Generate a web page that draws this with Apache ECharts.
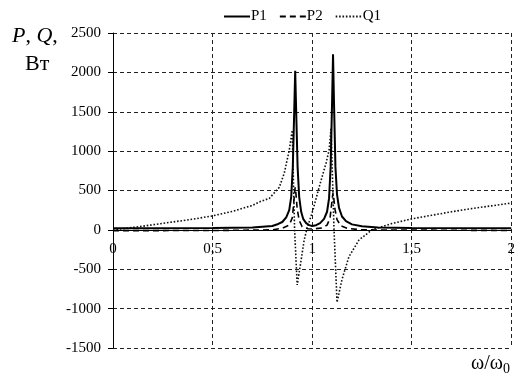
<!DOCTYPE html>
<html>
<head>
<meta charset="utf-8">
<script src="https://cdn.jsdelivr.net/npm/echarts@6/dist/echarts.min.js"></script>
<style>
  html, body { margin: 0; padding: 0; background: #fff; }
  #chart { width: 518px; height: 378px; }
</style>
</head>
<body>
<div id="chart"></div>
<script>
// omega / omega0 sample points for each curve, values in W
const p1X = [0, 0.25, 0.5, 0.7, 0.8, 0.83, 0.85, 0.87, 0.885, 0.895, 0.903, 0.91, 0.915, 0.92, 0.927, 0.935, 0.945, 0.955, 0.97, 0.985, 1.0, 1.02, 1.04, 1.06, 1.075, 1.085, 1.093, 1.1, 1.105, 1.11, 1.117, 1.125, 1.135, 1.15, 1.17, 1.2, 1.25, 1.33, 1.5, 2.0];
const p1Y = [20, 22, 25, 30, 50, 75, 100, 160, 250, 420, 800, 1500, 2020, 1500, 800, 420, 230, 140, 85, 60, 50, 60, 85, 140, 230, 400, 800, 1600, 2230, 1600, 800, 450, 280, 170, 110, 70, 45, 30, 25, 22];

const p2X = [0, 0.5, 0.8, 0.85, 0.885, 0.9, 0.905, 0.912, 0.915, 0.918, 0.925, 0.935, 0.95, 0.98, 1.0, 1.05, 1.075, 1.09, 1.095, 1.102, 1.105, 1.108, 1.115, 1.125, 1.145, 1.175, 1.25, 2.0];
const p2Y = [-10, -8, 0, 20, 60, 150, 270, 480, 540, 480, 270, 120, 40, 15, 10, 25, 60, 150, 260, 420, 470, 420, 260, 130, 50, 20, 0, -8];

const q1X = [0, 0.13, 0.27, 0.4, 0.5, 0.6, 0.7, 0.735, 0.785, 0.835, 0.86, 0.885, 0.9, 0.912, 0.925, 0.945, 0.96, 0.975, 1.0, 1.035, 1.07, 1.085, 1.095, 1.11, 1.125, 1.15, 1.185, 1.235, 1.3, 1.4, 1.5, 1.6, 1.7, 1.8, 1.9, 2.0];
const q1Y = [0, 40, 90, 135, 178, 235, 310, 355, 400, 540, 720, 1010, 1265, 0, -700, -380, -130, 25, 215, 540, 850, 1010, 1290, 0, -920, -630, -340, -130, 0, 80, 140, 185, 230, 270, 305, 340];

const yTicks = { min: -1500, max: 2500, step: 500 };
const xTicks = { min: 0, max: 2, step: 0.5 };

const pair = (xs, ys) => xs.map((x, i) => [x, ys[i]]);

const chart = echarts.init(document.getElementById('chart'), null, { renderer: 'canvas' });
const serif = '"Liberation Serif", "Times New Roman", serif';

const gridTop = 33;
const gridBottom = 30;
const gridHeight = 378 - gridTop - gridBottom;
// move the x axis up to the zero line
const zeroShift = gridHeight * (0 - yTicks.min) / (yTicks.max - yTicks.min);

const option = {
  backgroundColor: '#fff',
  animation: false,
  textStyle: { fontFamily: serif, color: '#000' },
  legend: {
    top: 4,
    left: 218,
    itemWidth: 26,
    itemHeight: 10,
    itemGap: 12,
    itemStyle: { color: 'transparent', borderWidth: 0, opacity: 0 },
    textStyle: { fontFamily: serif, fontSize: 15, color: '#000', padding: [0, 0, 0, -4] },
    data: ['P1', 'P2', 'Q1']
  },
  grid: { left: 113, right: 4, top: gridTop, bottom: gridBottom },
  xAxis: {
    type: 'value',
    min: xTicks.min,
    max: xTicks.max,
    interval: xTicks.step,
    offset: -zeroShift,
    axisLine: { onZero: false, lineStyle: { color: '#000', width: 1 } },
    axisTick: { show: false },
    axisLabel: {
      margin: 12,
      fontSize: 15,
      color: '#000',
      fontFamily: serif,
      formatter: v => String(v).replace('.', ',')
    },
    splitLine: { show: true, lineStyle: { color: '#222', type: [4, 3], width: 1 } }
  },
  yAxis: {
    type: 'value',
    min: yTicks.min,
    max: yTicks.max,
    interval: yTicks.step,
    axisLine: { show: true, onZero: false, lineStyle: { color: '#000', width: 1 } },
    axisTick: { show: true, inside: false, length: 5, lineStyle: { color: '#000' } },
    axisLabel: { margin: 12, fontSize: 15, color: '#000', fontFamily: serif, formatter: v => String(v) },
    splitLine: { show: true, lineStyle: { color: '#222', type: [4, 3], width: 1 } }
  },
  graphic: [
    {
      type: 'text',
      left: 12,
      top: 25,
      style: {
        text: '{i|P}, {i|Q},',
        font: '22px ' + serif,
        fill: '#000',
        rich: { i: { fontStyle: 'italic', fontSize: 22, fontFamily: serif } }
      }
    },
    {
      type: 'text',
      left: 25,
      top: 53,
      style: { text: 'Вт', font: '22px ' + serif, fill: '#000' }
    },
    {
      type: 'text',
      right: 8,
      bottom: 2,
      style: {
        text: 'ω/ω{s|0}',
        font: '20px ' + serif,
        fill: '#000',
        rich: { s: { fontSize: 14, fontFamily: serif, padding: [10, 0, 0, 0] } }
      }
    }
  ],
  series: [
    {
      name: 'P1',
      type: 'line',
      symbol: 'none',
      data: pair(p1X, p1Y),
      lineStyle: { color: '#000', width: 2 },
      itemStyle: { color: '#000' },
      z: 4
    },
    {
      name: 'P2',
      type: 'line',
      symbol: 'none',
      data: pair(p2X, p2Y),
      lineStyle: { color: '#000', width: 1.6, type: [6, 4] },
      itemStyle: { color: '#000' },
      z: 3
    },
    {
      name: 'Q1',
      type: 'line',
      symbol: 'none',
      data: pair(q1X, q1Y),
      lineStyle: { color: '#111', width: 1.6, type: [1.6, 1.8] },
      itemStyle: { color: '#111' },
      z: 2
    }
  ]
};

chart.setOption(option);
</script>
</body>
</html>
